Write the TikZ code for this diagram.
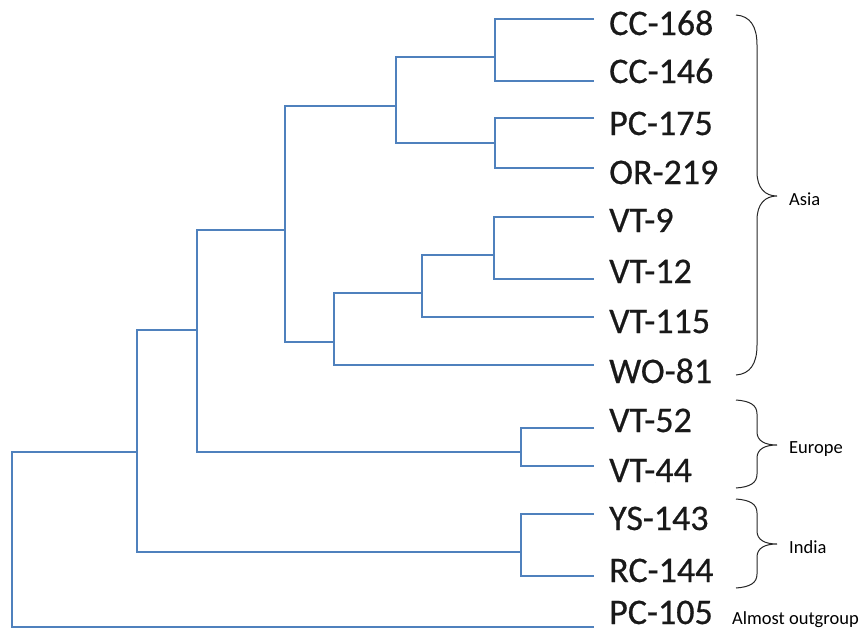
\documentclass[tikz,border=0pt]{standalone}
\usepackage{fontspec}
\setmainfont{Carlito}
\newfontfamily\taxonfont{Carlito}[FakeBold=0.6]
\definecolor{treeblue}{RGB}{79,129,189}
\begin{document}
\begin{tikzpicture}[x=1pt,y=-1pt,
  branch/.style={draw=treeblue, line width=2.2pt, line join=miter},
  taxon/.style={anchor=base west, inner sep=0pt, text depth=0pt,
    font=\taxonfont\fontsize{36}{38}\selectfont, text=black!90},
  region/.style={anchor=base west, inner sep=0pt, text depth=0pt,
    font=\fontsize{18.5}{20}\selectfont, text=black},
  bracket/.style={draw=black!85, line width=1pt}]
\useasboundingbox (0,0) rectangle (868,633);

% taxon labels
\node[taxon] (tCCa) at (609,35)  {CC-168};
\node[taxon] (tCCb) at (609,83)  {CC-146};
\node[taxon] (tPC)  at (609,135) {PC-175};
\node[taxon] (tOR)  at (609,184) {OR-219};
\node[taxon] (tVTa) at (609,232) {VT-9};
\node[taxon] (tVTb) at (609,283) {VT-12};
\node[taxon] (tVTc) at (609,333) {VT-115};
\node[taxon] (tWO)  at (609,383) {WO-81};
\node[taxon] (tVTd) at (609,432) {VT-52};
\node[taxon] (tVTe) at (609,482) {VT-44};
\node[taxon] (tYS)  at (609,530) {YS-143};
\node[taxon] (tRC)  at (609,582) {RC-144};
\node[taxon] (tPCo) at (609,624) {PC-105};

% leaf tips
\coordinate (lCCa) at (594,19);
\coordinate (lCCb) at (594,81);
\coordinate (lPC)  at (594,118);
\coordinate (lOR)  at (594,168);
\coordinate (lVTa) at (594,217);
\coordinate (lVTb) at (594,279);
\coordinate (lVTc) at (594,317);
\coordinate (lWO)  at (594,365);
\coordinate (lVTd) at (594,428);
\coordinate (lVTe) at (594,466);
\coordinate (lYS)  at (594,514);
\coordinate (lRC)  at (594,576);
\coordinate (lPCo) at (594,627);

% internal nodes (x = depth, y = where the parent branch attaches)
\coordinate (n1)  at (495,57);
\coordinate (n2)  at (495,143);
\coordinate (n3)  at (396,106);
\coordinate (n4)  at (494,255);
\coordinate (n5)  at (422,293);
\coordinate (n6)  at (334,342);
\coordinate (n7)  at (285,230);
\coordinate (n8)  at (521,452);
\coordinate (n9)  at (197,330);
\coordinate (n10) at (521,552);
\coordinate (n11) at (137,452);
\coordinate (root) at (12,540);

% branches
\draw[branch] (lCCa) -| (n1) |- (lCCb);
\draw[branch] (lPC)  -| (n2) |- (lOR);
\draw[branch] (n1)   -| (n3) |- (n2);
\draw[branch] (lVTa) -| (n4) |- (lVTb);
\draw[branch] (n4)   -| (n5) |- (lVTc);
\draw[branch] (n5)   -| (n6) |- (lWO);
\draw[branch] (n3)   -| (n7) |- (n6);
\draw[branch] (lVTd) -| (n8) |- (lVTe);
\draw[branch] (n7)   -| (n9) |- (n8);
\draw[branch] (lYS)  -| (n10) |- (lRC);
\draw[branch] (n9)   -| (n11) |- (n10);
\draw[branch] (n11)  -| (root) |- (lPCo);

% group braces
\draw[bracket] (736,15) .. controls (750,16) and (757,26) .. (757,45)
  -- (757,172) .. controls (757,188) and (765,196) .. (777,196)
  .. controls (765,196) and (757,204) .. (757,220)
  -- (757,345) .. controls (757,364) and (750,374) .. (736,375);
\draw[bracket] (736,400) .. controls (750,401) and (757,405) .. (757,414)
  -- (757,432) .. controls (757,441) and (765,445) .. (777,445)
  .. controls (765,445) and (757,449) .. (757,458)
  -- (757,474) .. controls (757,483) and (750,487) .. (736,488);
\draw[bracket] (736,499) .. controls (750,500) and (757,504) .. (757,513)
  -- (757,531) .. controls (757,540) and (765,544) .. (777,544)
  .. controls (765,544) and (757,548) .. (757,557)
  -- (757,574) .. controls (757,583) and (750,587) .. (736,588);

% group labels
\node[region] (gAsia)   at (789,205) {Asia};
\node[region] (gEurope) at (789,453) {Europe};
\node[region] (gIndia)  at (789,553) {India};
\node[region] (gOut)    at (732,624) {Almost outgroup};
\end{tikzpicture}
\end{document}
